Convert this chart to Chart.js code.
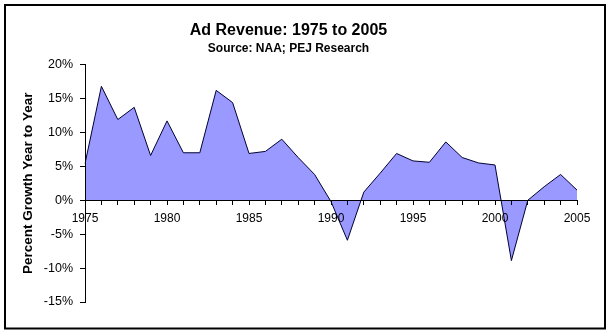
<!DOCTYPE html>
<html>
<head>
<meta charset="utf-8">
<script src="https://cdn.jsdelivr.net/npm/chart.js@4.4.1/dist/chart.umd.min.js"></script>
<style>
html,body{margin:0;padding:0;background:#fff;}
#wrap{position:absolute;left:0;top:0;width:613px;height:334px;}
</style>
</head>
<body>
<div id="wrap"><canvas id="c" width="613" height="334"></canvas></div>
<script>
const years = [1975,1976,1977,1978,1979,1980,1981,1982,1983,1984,1985,1986,1987,1988,1989,1990,1991,1992,1993,1994,1995,1996,1997,1998,1999,2000,2001,2002,2003,2004,2005];
const growth = [5.4,16.8,11.9,13.7,6.6,11.7,7.0,7.0,16.2,14.4,6.9,7.2,9.0,6.3,3.8,-0.2,-5.9,1.2,4.0,6.9,5.8,5.6,8.6,6.3,5.5,5.2,-8.9,0.0,2.0,3.8,1.5];
const yTicks = [-15,-10,-5,0,5,10,15,20];
const titleText = 'Ad Revenue: 1975 to 2005';
const subtitleText = 'Source: NAA; PEJ Research';
const yTitleText = 'Percent Growth Year to Year';

const FONT = '"Liberation Sans", Arial, sans-serif';

const framePlugin = {
  id: 'frame',
  afterDraw(chart) {
    const ctx = chart.ctx;
    ctx.save();
    ctx.strokeStyle = '#000';
    ctx.lineWidth = 2;
    ctx.strokeRect(5, 5, 600, 323.5);
    ctx.restore();
  }
};

new Chart(document.getElementById('c'), {
  type: 'line',
  data: {
    labels: years.map(String),
    datasets: [{
      data: growth,
      fill: 'origin',
      backgroundColor: '#9999FF',
      borderColor: '#000033',
      borderWidth: 1,
      pointRadius: 0,
      tension: 0
    }]
  },
  options: {
    responsive: false,
    animation: false,
    devicePixelRatio: 1,
    layout: { padding: { left: 0, right: 36, top: 0, bottom: 32 } },
    plugins: {
      legend: { display: false },
      tooltip: { enabled: false },
      title: {
        display: true,
        text: titleText,
        color: '#000',
        font: { family: FONT, size: 16, weight: 'bold' },
        padding: { top: 21, bottom: 0 }
      },
      subtitle: {
        display: true,
        text: subtitleText,
        color: '#000',
        font: { family: FONT, size: 12, weight: 'bold' },
        padding: { top: 1, bottom: 9 }
      }
    },
    scales: {
      x: {
        type: 'category',
        position: { y: 0 },
        offset: false,
        grid: { display: true, drawOnChartArea: false, drawTicks: true, tickLength: 4, color: '#000', tickColor: '#000', z: 1 },
        border: { display: true, color: '#000', width: 1, z: 1 },
        ticks: {
          autoSkip: false,
          maxRotation: 0,
          color: '#000',
          padding: 7,
          z: 1,
          font: { family: FONT, size: 12 },
          callback: function(v, i) { const y = years[i]; return (y % 5 === 0) ? String(y) : ''; }
        }
      },
      y: {
        min: -15,
        max: 20,
        afterBuildTicks: function(scale) { scale.ticks = yTicks.map(v => ({ value: v })); },
        afterFit: function(scale) { scale.width = 85; },
        grid: { display: true, drawOnChartArea: false, drawTicks: true, tickLength: 5, color: '#000', tickColor: '#000', z: 1 },
        border: { display: true, color: '#000', width: 1, z: 1 },
        ticks: {
          color: '#000',
          padding: 7,
          z: 1,
          font: { family: FONT, size: 12.5 },
          callback: function(v) { return v + '%'; }
        },
        title: {
          display: true,
          text: yTitleText,
          color: '#000',
          font: { family: FONT, size: 13.5, weight: 'bold' },
          padding: { top: 20, bottom: 0 }
        }
      }
    }
  },
  plugins: [framePlugin]
});
</script>
</body>
</html>
